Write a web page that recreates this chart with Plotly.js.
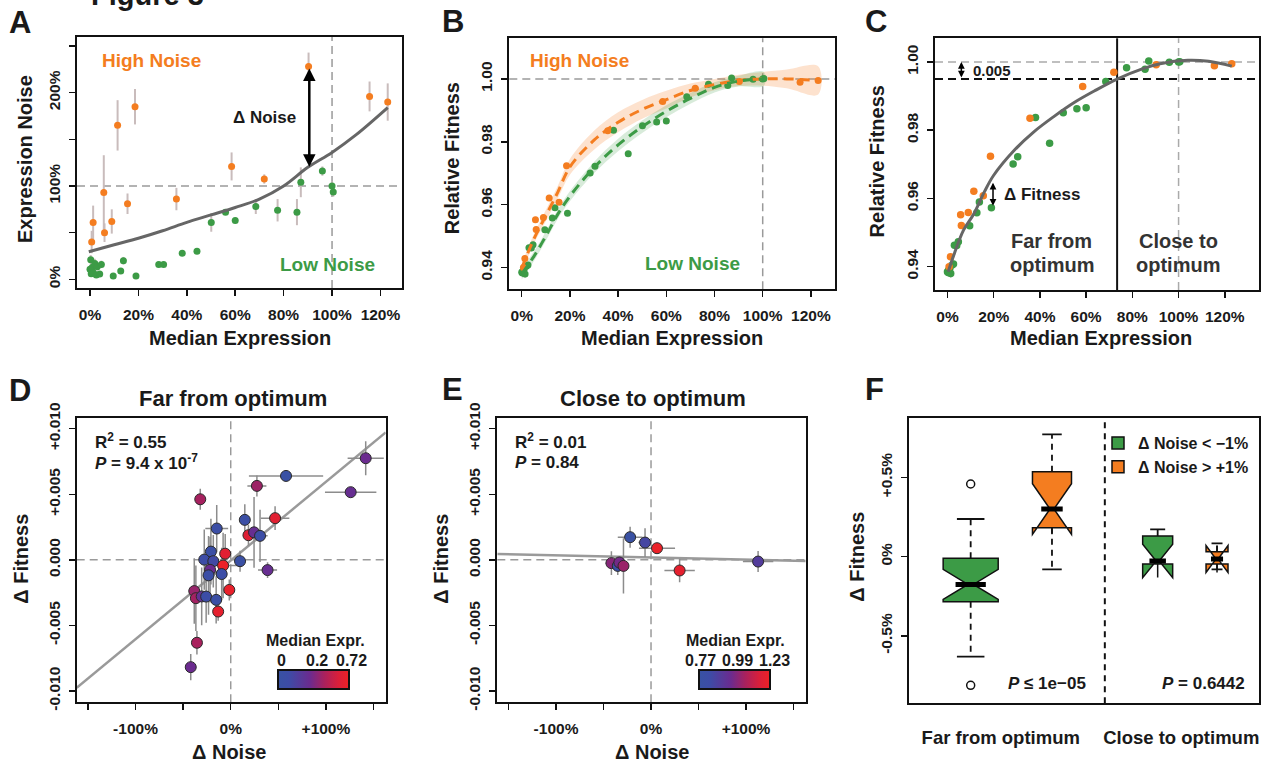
<!DOCTYPE html>
<html>
<head>
<meta charset="utf-8">
<script src="https://cdn.plot.ly/plotly-3.0.1.min.js"></script>
<style>
  html, body { margin: 0; padding: 0; background: #fff; }
  #fig { width: 1263px; height: 764px; }
</style>
</head>
<body>
<div id="fig"></div>
<script>
// ---------- Strain data (panels A, B, C) ----------
// High-noise strains (orange): median expression (%), expression noise (%), fitness
const hiExpr      = [0.7, 1.3, 5.7, 6.0, 9.0, 11.4, 15.5, 18.6, 35.7, 58.5, 72.0, 90.3, 115.5, 123.0];
const hiNoise     = [40, 61, 93, 50, 62, 165, 81, 185, 86, 121, 107.5, 228, 196, 190];
const hiNoiseErr  = [12, 18, 40, 10, 13, 27, 11, 19, 12, 15, 5, 15, 16, 20];
const hiFit       = [0.9400, 0.9429, 0.9552, 0.9521, 0.9559, 0.9621, 0.9608, 0.9724, 0.9835, 0.9928, 0.9970, 0.9992, 0.9989, 0.9995];
const hiFitErr    = [0.0012, 0.0010, 0.0009, 0.0008, 0.0008, 0.0008, 0.0008, 0.0008, 0.0006, 0.0006, 0.0005, 0.0005, 0.0005, 0.0005];

// Low-noise strains (green)
const loExpr      = [0.0, 0.3, 0.5, 1.0, 1.4, 2.0, 2.6, 3.0, 4.0, 4.7, 9.6, 12.7, 13.8, 19.0, 28.4, 30.4, 38.1, 44.2, 50.1, 56.0, 60.0, 68.5, 77.5, 85.5, 87.1, 96.0, 100.0, 100.5];
const loNoise     = [10.7, 21, 6, 13, 7, 17, 4.6, 13.5, 5.7, 16, 3.5, 9, 20, 3.5, 16, 16, 28, 30, 61, 72, 63, 78, 74, 72, 104, 116, 100, 93.5];
const loNoiseErr  = [4, 5, 3, 4, 3, 5, 3, 4, 3, 4, 2, 3, 4, 2, 2, 2, 3, 3, 10, 3, 3, 8, 12, 14, 16, 5, 5, 5];
const loFit       = [0.9385, 0.9383, 0.9390, 0.9395, 0.9380, 0.9405, 0.9408, 0.9463, 0.9462, 0.9473, 0.9520, 0.9558, 0.9590, 0.9573, 0.9701, 0.9722, 0.9837, 0.9762, 0.9851, 0.9863, 0.9866, 0.9943, 0.9983, 0.9979, 1.0003, 0.9999, 1.0000, 1.0001];
const loFitErr    = [0.0012, 0.0012, 0.0010, 0.0010, 0.0012, 0.0010, 0.0010, 0.0010, 0.0010, 0.0010, 0.0008, 0.0008, 0.0008, 0.0008, 0.0006, 0.0006, 0.0006, 0.0006, 0.0005, 0.0005, 0.0005, 0.0005, 0.0005, 0.0005, 0.0005, 0.0005, 0.0005, 0.0005];

// Loess trend of noise vs expression (A)
const noiseFitX = [-0.5, 10, 20, 30, 40, 50, 60, 70, 80, 90, 100, 110, 123];
const noiseFitY = [29.5, 37, 44, 52, 61, 69, 77, 86, 100, 120, 136, 155, 184];

// Loess fits with confidence bands (B)
const hiCurveX  = [0, 5, 10, 15, 20, 30, 40, 50, 60, 70, 80, 90, 100, 110, 123];
const hiCurveY  = [0.9398, 0.9490, 0.9565, 0.9640, 0.9720, 0.9805, 0.9862, 0.9903, 0.9934, 0.9963, 0.9982, 0.9995, 1.0000, 1.0000, 0.9995];
const hiCurveSE = [0.0015, 0.0015, 0.0018, 0.0020, 0.0025, 0.0030, 0.0032, 0.0030, 0.0028, 0.0022, 0.0018, 0.0018, 0.0022, 0.0030, 0.0045];
const loCurveX  = [0, 5, 10, 15, 20, 30, 40, 50, 60, 70, 80, 90, 100.5];
const loCurveY  = [0.9380, 0.9435, 0.9500, 0.9570, 0.9627, 0.9718, 0.9790, 0.9848, 0.9897, 0.9938, 0.9973, 0.9993, 1.0000];
const loCurveSE = [0.0018, 0.0015, 0.0015, 0.0015, 0.0016, 0.0018, 0.0020, 0.0020, 0.0019, 0.0017, 0.0016, 0.0017, 0.0022];

// Pooled loess fit (C)
const allCurveX = [0.3, 3, 7, 11.5, 16, 20, 29, 37.5, 46, 55, 63.5, 73.4, 84, 92, 104, 113, 123];
const allCurveY = [0.9385, 0.9439, 0.9508, 0.9556, 0.9620, 0.9668, 0.9742, 0.9796, 0.9840, 0.9882, 0.9915, 0.9950, 0.9979, 0.9995, 1.0005, 1.0002, 0.9988];
const optimumCut = 73.4;      // expression splitting far / close to optimum
const fitnessTol = 0.005;     // fitness tolerance below optimum

// ---------- Δ Noise vs Δ Fitness (panels D, E) ----------
const farDNoise   = [141.8, 126, 58.1, 27.5, -32, 46.6, 14.8, -14.7, 18.6, 24.5, 30.8, -20.8, -5.8, -27.8, -18.3, 9.8, -8, -21.7, -23.3, -9.5, 38.7, -1.5, -38.3, -36.6, -30.5, -25.8, -15.3, -13.2, -35.5, -42];
const farDFit     = [0.00775, 0.00516, 0.0064, 0.00564, 0.00462, 0.00318, 0.00305, 0.00239, 0.00188, 0.0021, 0.00183, 0.00063, 0.00047, 0.00002, -0.0001, -0.0001, -0.00043, -0.00076, -0.00118, -0.00108, -0.00078, -0.00229, -0.00238, -0.00292, -0.00279, -0.0028, -0.00305, -0.00394, -0.00632, -0.00818];
const farNoiseErr = [19, 27, 39, 10, 3, 15, 3, 12, 5, 4, 8, 5, 4, 5, 6, 6, 20, 4, 4, 3, 10, 3, 3, 3, 3, 3, 3, 3, 3, 3];
const farFitErr   = [0.0013, 0.0003, 0.0003, 0.0008, 0.0008, 0.0009, 0.0012, 0.0018, 0.0008, 0.0027, 0.0020, 0.0025, 0.0015, 0.0023, 0.0020, 0.0008, 0.0025, 0.0025, 0.0030, 0.0020, 0.0006, 0.0008, 0.0025, 0.0025, 0.0022, 0.0020, 0.0018, 0.0007, 0.0009, 0.0010];
const farMedExpr  = [0.18, 0.17, 0.01, 0.32, 0.35, 0.62, 0.03, 0.04, 0.60, 0.17, 0.05, 0.03, 0.62, 0.06, 0.07, 0.02, 0.70, 0.18, 0.04, 0.05, 0.17, 0.68, 0.30, 0.34, 0.16, 0.05, 0.03, 0.65, 0.36, 0.18];
const farFitLine  = { slope: 6.0e-5, intercept: -0.00005 };
const farExprTicks = [0, 0.2, 0.72];

const closeDNoise   = [-22, -6.3, 6.3, -41.7, -35, -33.3, -29, 30.1, 112.7];
const closeDFit     = [0.00173, 0.00132, 0.00089, -0.00025, -0.00046, -0.0002, -0.00046, -0.00081, -0.00013];
const closeNoiseErr = [13, 7, 19, 6, 3, 3, 4, 16, 16];
const closeFitErr   = [0.0008, 0.0011, 0.0003, 0.0009, 0.0007, 0.0005, 0.0021, 0.0009, 0.0008];
const closeMedExpr  = [0.78, 0.86, 1.22, 1.01, 0.80, 0.98, 1.04, 1.20, 0.90];
const closeFitLine  = { slope: -1.64e-6, intercept: 0.00019 };
const closeExprTicks = [0.77, 0.99, 1.23];

// ---------- Box summaries (panel F), Δ Fitness in % ----------
const boxPos      = [1, 2, 3.3, 4.03];
const boxGroup    = ['low', 'high', 'low', 'high'];
const boxQ1       = [-0.284, 0.183, -0.046, -0.046];
const boxMedian   = [-0.175, 0.301, -0.027, -0.015];
const boxQ3       = [-0.010, 0.537, 0.130, 0.032];
const boxLoWhisk  = [-0.631, -0.080, -0.046, -0.080];
const boxHiWhisk  = [0.238, 0.772, 0.173, 0.084];
const boxNotch    = [0.095, 0.160, 0.105, 0.085];
const boxWidth    = [0.677, 0.48, 0.369, 0.27];
const outlierPos  = [1, 1];
const outlierVal  = [0.459, -0.812];
const groupSplit  = 2.65;

// ---------- Page geometry ----------
const W = 1263, H = 764;
const px = v => v / W;
const py = v => 1 - v / H;
const ORANGE = '#f47d20', GREEN = '#3c9b46', INK = '#1a1a1a';
const FONT = 'Liberation Sans, Arial, Helvetica, sans-serif';

const FR = {
  A: { x0: 77,    x1: 402,    y0: 37,    y1: 288 },
  B: { x0: 509.3, x1: 835,    y0: 38.3,  y1: 289.3 },
  C: { x0: 935,   x1: 1259,   y0: 38.3,  y1: 290 },
  D: { x0: 76.7,  x1: 385.7,  y0: 417.7, y1: 702.3 },
  E: { x0: 497.3, x1: 805.7,  y0: 417.7, y1: 702.3 },
  F: { x0: 909.3, x1: 1259.3, y0: 417.7, y1: 703.3 }
};

function axis(f, isX, anchor, range, tickvals, ticktext, extra) {
  return Object.assign({
    domain: isX ? [px(f.x0), px(f.x1)] : [py(f.y1), py(f.y0)],
    anchor: anchor, range: range,
    tickmode: 'array', tickvals: tickvals, ticktext: ticktext,
    showgrid: false, zeroline: false,
    showline: true, mirror: true, linewidth: 2, linecolor: '#111',
    ticks: 'outside', ticklen: 6, tickwidth: 1.5, tickcolor: '#111',
    tickfont: { family: FONT, size: 15.5, color: INK, weight: 'bold' },
    tickangle: isX ? 0 : -90,
    ticklabelstandoff: isX ? 5 : 3,
    automargin: false, fixedrange: true
  }, extra || {});
}

const pctTicks = [0, 20, 40, 60, 80, 100, 120];
const pctText = pctTicks.map(v => v + '%');
const fitTicks = [0.94, 0.96, 0.98, 1.00];
const fitText = fitTicks.map(v => v.toFixed(2));
const dTicks = [-0.01, -0.005, 0, 0.005, 0.01];
const dText = ['-0.010', '-0.005', '0.000', '+0.005', '+0.010'];
const nTicks = [-150, -100, -50, 0, 50, 100, 150];
const nText = ['', '-100%', '', '0%', '', '+100%', ''];

// maps median expression onto the colour bar (0.5 at the middle label)
function exprToPos(v, t) {
  if (v <= t[1]) return 0.5 * (v - t[0]) / (t[1] - t[0]);
  return 0.5 + 0.5 * (v - t[1]) / (t[2] - t[1]);
}
const exprScale = [[0, '#3852a3'], [0.15, '#3d4ca6'], [0.45, '#6b2b8f'], [0.65, '#a8215e'], [0.85, '#d91f3a'], [1, '#ee2125']];

const traces = [];
const none = { hoverinfo: 'skip', showlegend: false };

// ----- Panel A -----
traces.push(Object.assign({
  type: 'scatter', mode: 'markers', xaxis: 'x', yaxis: 'y',
  x: loExpr, y: loNoise,
  error_y: { type: 'data', array: loNoiseErr, color: '#c9bcbc', thickness: 2, width: 0 },
  marker: { color: GREEN, size: 7 }
}, none));
traces.push(Object.assign({
  type: 'scatter', mode: 'markers', xaxis: 'x', yaxis: 'y',
  x: hiExpr, y: hiNoise,
  error_y: { type: 'data', array: hiNoiseErr, color: '#c9bcbc', thickness: 2, width: 0 },
  marker: { color: ORANGE, size: 7 }
}, none));
traces.push(Object.assign({
  type: 'scatter', mode: 'lines', xaxis: 'x', yaxis: 'y',
  x: noiseFitX, y: noiseFitY, line: { color: '#666', width: 3, shape: 'spline' }
}, none));

// ----- Panel B -----
function band(xs, ys, se, fill) {
  const up = ys.map((v, i) => v + se[i]);
  const dn = ys.map((v, i) => v - se[i]);
  return Object.assign({
    type: 'scatter', mode: 'lines', xaxis: 'x2', yaxis: 'y2',
    x: xs.concat(xs.slice().reverse()), y: up.concat(dn.reverse()),
    fill: 'toself', fillcolor: fill, line: { width: 0, shape: 'spline' }
  }, none);
}
traces.push(band(hiCurveX, hiCurveY, hiCurveSE, 'rgba(244,125,32,0.22)'));
traces.push(band(loCurveX, loCurveY, loCurveSE, 'rgba(60,155,70,0.2)'));
traces.push(Object.assign({
  type: 'scatter', mode: 'markers', xaxis: 'x2', yaxis: 'y2', x: loExpr, y: loFit,
  error_y: { type: 'data', array: loFitErr, color: '#bbb', thickness: 1.5, width: 0 },
  marker: { color: GREEN, size: 7 }
}, none));
traces.push(Object.assign({
  type: 'scatter', mode: 'markers', xaxis: 'x2', yaxis: 'y2', x: hiExpr, y: hiFit,
  error_y: { type: 'data', array: hiFitErr, color: '#bbb', thickness: 1.5, width: 0 },
  marker: { color: ORANGE, size: 7 }
}, none));
traces.push(Object.assign({
  type: 'scatter', mode: 'lines', xaxis: 'x2', yaxis: 'y2', x: hiCurveX, y: hiCurveY,
  line: { color: ORANGE, width: 3, dash: '10px,6px', shape: 'spline' }
}, none));
traces.push(Object.assign({
  type: 'scatter', mode: 'lines', xaxis: 'x2', yaxis: 'y2', x: loCurveX, y: loCurveY,
  line: { color: GREEN, width: 3, dash: '10px,6px', shape: 'spline' }
}, none));

// ----- Panel C -----
traces.push(Object.assign({
  type: 'scatter', mode: 'markers', xaxis: 'x3', yaxis: 'y3', x: loExpr, y: loFit,
  error_y: { type: 'data', array: loFitErr, color: '#bbb', thickness: 1.5, width: 0 },
  marker: { color: GREEN, size: 7.5 }
}, none));
traces.push(Object.assign({
  type: 'scatter', mode: 'markers', xaxis: 'x3', yaxis: 'y3', x: hiExpr, y: hiFit,
  error_y: { type: 'data', array: hiFitErr, color: '#bbb', thickness: 1.5, width: 0 },
  marker: { color: ORANGE, size: 7.5 }
}, none));
traces.push(Object.assign({
  type: 'scatter', mode: 'lines', xaxis: 'x3', yaxis: 'y3', x: allCurveX, y: allCurveY,
  line: { color: '#666', width: 3, shape: 'spline' }
}, none));

// ----- Panels D and E -----
function fitLine(ax, ay, fit, range) {
  return Object.assign({
    type: 'scatter', mode: 'lines', xaxis: ax, yaxis: ay,
    x: range, y: range.map(v => fit.intercept + fit.slope * v),
    line: { color: '#9a9a9a', width: 2.5 }
  }, none);
}
function deltaPoints(ax, ay, xs, ys, ex, ey, expr, ticks) {
  return Object.assign({
    type: 'scatter', mode: 'markers', xaxis: ax, yaxis: ay, x: xs, y: ys,
    error_x: { type: 'data', array: ex, color: '#8c8c8c', thickness: 1.5, width: 0 },
    error_y: { type: 'data', array: ey, color: '#8c8c8c', thickness: 1.5, width: 0 },
    marker: {
      size: 11, color: expr.map(v => exprToPos(v, ticks)), cmin: 0, cmax: 1,
      colorscale: exprScale, line: { color: '#2a2a2a', width: 1 }
    }
  }, none);
}
const nRange = [-161.8, 162.8];
traces.push(fitLine('x4', 'y4', farFitLine, nRange));
traces.push(deltaPoints('x4', 'y4', farDNoise, farDFit, farNoiseErr, farFitErr, farMedExpr, farExprTicks));
traces.push(fitLine('x5', 'y5', closeFitLine, nRange));
traces.push(deltaPoints('x5', 'y5', closeDNoise, closeDFit, closeNoiseErr, closeFitErr, closeMedExpr, closeExprTicks));

// colour bars (drawn from a hidden trace per panel)
function colorBarTrace(ax, ay, cx, y1) {
  return Object.assign({
    type: 'scatter', mode: 'markers', xaxis: ax, yaxis: ay, x: [null], y: [null],
    marker: {
      color: [0], cmin: 0, cmax: 1, colorscale: exprScale, showscale: true,
      colorbar: {
        orientation: 'h', x: px(cx), xanchor: 'center', y: py(y1), yanchor: 'bottom',
        len: 71, lenmode: 'pixels', thickness: 19, thicknessmode: 'pixels',
        outlinewidth: 2, outlinecolor: '#111', showticklabels: false, ticks: '',
        xpad: 0, ypad: 0, borderwidth: 0
      }
    }
  }, none);
}
traces.push(colorBarTrace('x4', 'y4', 313.8, 691));
traces.push(colorBarTrace('x5', 'y5', 734.2, 691));

// ----- Panel F -----
const capFrac = 0.5, notchFrac = 0.45;
const whiskX = [], whiskY = [], capX = [], capY = [], medX = [], medY = [];
boxPos.forEach((p, i) => {
  whiskX.push(p, p, null, p, p, null);
  whiskY.push(boxQ3[i], boxHiWhisk[i], null, boxQ1[i], boxLoWhisk[i], null);
  const c = boxWidth[i] * capFrac / 2;
  if (boxHiWhisk[i] > boxQ3[i]) { capX.push(p - c, p + c, null); capY.push(boxHiWhisk[i], boxHiWhisk[i], null); }
  if (boxLoWhisk[i] < boxQ1[i]) { capX.push(p - c, p + c, null); capY.push(boxLoWhisk[i], boxLoWhisk[i], null); }
  const m = boxWidth[i] * (1 - notchFrac) / 2;
  medX.push(p - m, p + m, null); medY.push(boxMedian[i], boxMedian[i], null);
});
traces.push(Object.assign({
  type: 'scatter', mode: 'lines', xaxis: 'x6', yaxis: 'y6', x: whiskX, y: whiskY,
  line: { color: '#111', width: 1.8, dash: '6px,5px' }
}, none));
traces.push(Object.assign({
  type: 'scatter', mode: 'lines', xaxis: 'x6', yaxis: 'y6', x: capX, y: capY,
  line: { color: '#111', width: 1.8 }
}, none));
const legendSeen = {};
boxPos.forEach((p, i) => {
  const g = boxGroup[i];
  traces.push({
    type: 'box', xaxis: 'x6', yaxis: 'y6', x: [p],
    q1: [boxQ1[i]], median: [boxMedian[i]], q3: [boxQ3[i]],
    lowerfence: [boxQ1[i]], upperfence: [boxQ3[i]],
    notched: true, notchspan: [boxNotch[i]], notchwidth: notchFrac,
    width: boxWidth[i], whiskerwidth: 0, boxpoints: false,
    fillcolor: g === 'low' ? GREEN : ORANGE,
    line: { color: '#111', width: 1.5 },
    name: g === 'low' ? 'Δ Noise &lt; −1%' : 'Δ Noise &gt; +1%',
    legendgroup: g, showlegend: !legendSeen[g], hoverinfo: 'skip'
  });
  legendSeen[g] = true;
});
traces.push(Object.assign({
  type: 'scatter', mode: 'lines', xaxis: 'x6', yaxis: 'y6', x: medX, y: medY,
  line: { color: '#000', width: 5 }
}, none));
traces.push(Object.assign({
  type: 'scatter', mode: 'markers', xaxis: 'x6', yaxis: 'y6', x: outlierPos, y: outlierVal,
  marker: { symbol: 'circle-open', color: '#111', size: 8, line: { width: 1.5 } }
}, none));

// ---------- Reference lines ----------
const grayDash = { color: '#9a9a9a', width: 1.5, dash: '8px,5px' };
function vline(ax, ay, x, line) { return { type: 'line', layer: 'below', xref: ax, yref: ay + ' domain', x0: x, x1: x, y0: 0, y1: 1, line: line }; }
function hline(ax, ay, y, line) { return { type: 'line', layer: 'below', xref: ax + ' domain', yref: ay, x0: 0, x1: 1, y0: y, y1: y, line: line }; }
const shapes = [
  hline('x', 'y', 100, grayDash), vline('x', 'y', 100, grayDash),
  hline('x2', 'y2', 1, grayDash), vline('x2', 'y2', 100, grayDash),
  hline('x3', 'y3', 1, { color: '#aaa', width: 1.5, dash: '8px,5px' }), vline('x3', 'y3', 100, { color: '#aaa', width: 1.5, dash: '8px,5px' }),
  hline('x3', 'y3', 1 - fitnessTol, { color: '#111', width: 2, dash: '8px,5px' }),
  vline('x3', 'y3', optimumCut, { color: '#111', width: 2 }),
  hline('x4', 'y4', 0, grayDash), vline('x4', 'y4', 0, grayDash),
  hline('x5', 'y5', 0, grayDash), vline('x5', 'y5', 0, grayDash),
  vline('x6', 'y6', groupSplit, { color: '#111', width: 2, dash: '6px,5px' })
];

// ---------- Text ----------
function txt(text, x, y, size, opts) {
  opts = opts || {};
  return {
    xref: 'paper', yref: 'paper', x: px(x), y: py(y), text: text, showarrow: false,
    xanchor: opts.xanchor || 'center', yanchor: opts.yanchor || 'middle',
    textangle: opts.angle || 0,
    font: { family: FONT, size: size, color: opts.color || INK, weight: 'bold' }
  };
}
function arrow(ax, ay, x, y0, y1, width, size) {
  return {
    xref: ax, yref: ay, axref: ax, ayref: ay, x: x, y: y1, ax: x, ay: y0, text: '',
    showarrow: true, arrowside: 'end+start', arrowhead: 2, startarrowhead: 2,
    arrowsize: size, startarrowsize: size, arrowwidth: width, arrowcolor: '#000',
    standoff: 0, startstandoff: 0
  };
}
const annotations = [
  txt('Figure 3', 89, 13, 29, { xanchor: 'left', yanchor: 'bottom' }),
  txt('A', 7, 23, 31, { xanchor: 'left' }), txt('B', 440, 22, 31, { xanchor: 'left' }), txt('C', 863, 22, 31, { xanchor: 'left' }),
  txt('D', 7, 390, 31, { xanchor: 'left' }), txt('E', 440, 389, 31, { xanchor: 'left' }), txt('F', 863, 389, 31, { xanchor: 'left' }),
  // A
  txt('High Noise', 100, 61, 19, { xanchor: 'left', color: ORANGE }),
  txt('Low Noise', 377, 264, 19, { xanchor: 'right', color: GREEN }),
  txt('Δ Noise', 298, 117, 17, { xanchor: 'right' }),
  arrow('x', 'y', 90.6, 119, 226, 2.5, 1),
  txt('Median Expression', 239.5, 337.7, 20), txt('Expression Noise', 25, 159, 20, { angle: -90 }),
  // B
  txt('High Noise', 528, 60, 19, { xanchor: 'left', color: ORANGE }),
  txt('Low Noise', 742, 263, 19, { xanchor: 'right', color: GREEN }),
  txt('Median Expression', 672.2, 338.3, 20), txt('Relative Fitness', 452.3, 158, 20, { angle: -90 }),
  // C
  arrow('x3', 'y3', 6, 1 - fitnessTol, 1, 1.5, 0.9),
  txt('0.005', 970.5, 70.5, 15, { xanchor: 'left' }),
  arrow('x3', 'y3', 19.7, 0.9574, 0.9646, 1.5, 0.9),
  txt('Δ Fitness', 1002, 195, 17, { xanchor: 'left' }),
  txt('Far from', 1051.7, 240.7, 20, { color: '#333' }), txt('optimum', 1051.7, 265, 20, { color: '#333' }),
  txt('Close to', 1178, 240.7, 20, { color: '#333' }), txt('optimum', 1178, 265, 20, { color: '#333' }),
  txt('Median Expression', 1100.8, 338.3, 20), txt('Relative Fitness', 876.7, 161.7, 20, { angle: -90 }),
  // D
  txt('Far from optimum', 233, 398.3, 22),
  txt('R<sup>2</sup> = 0.55', 93.3, 440.7, 17, { xanchor: 'left' }),
  txt('<i>P</i> = 9.4 x 10<sup>-7</sup>', 93.3, 462.3, 17, { xanchor: 'left' }),
  txt('Median Expr.', 315, 640.7, 16),
  txt(String(farExprTicks[0]), 281, 660, 16), txt(String(farExprTicks[1]), 316.7, 660, 16), txt(String(farExprTicks[2]), 351.7, 660, 16),
  txt('Δ Noise', 228.8, 751.7, 20), txt('Δ Fitness', 20.7, 559, 20, { angle: -90 }),
  // E
  txt('Close to optimum', 653.3, 398.3, 22),
  txt('R<sup>2</sup> = 0.01', 513.3, 440.7, 17, { xanchor: 'left' }),
  txt('<i>P</i> = 0.84', 513.3, 462.3, 17, { xanchor: 'left' }),
  txt('Median Expr.', 735, 640.7, 16),
  txt(closeExprTicks[0].toFixed(2), 700.7, 660, 16), txt(closeExprTicks[1].toFixed(2), 737.3, 660, 16), txt(closeExprTicks[2].toFixed(2), 774.3, 660, 16),
  txt('Δ Noise', 651.7, 751.7, 20), txt('Δ Fitness', 440.7, 559, 20, { angle: -90 }),
  // F
  txt('<i>P</i> ≤ 1e−05', 1088.3, 683.3, 17, { xanchor: 'right' }),
  txt('<i>P</i> = 0.6442', 1246.7, 683.3, 17, { xanchor: 'right' }),
  txt('Δ Fitness', 856.7, 557, 20, { angle: -90 })
];

const layout = {
  width: W, height: H, autosize: false,
  margin: { l: 0, r: 0, t: 0, b: 0 },
  paper_bgcolor: '#fff', plot_bgcolor: '#fff',
  font: { family: FONT, color: INK },
  boxmode: 'overlay',
  showlegend: true,
  legend: {
    x: px(1098), y: py(426), xanchor: 'left', yanchor: 'top',
    bgcolor: 'rgba(0,0,0,0)', borderwidth: 0, itemclick: false, itemdoubleclick: false,
    font: { family: FONT, size: 16, color: INK, weight: 'bold' }, tracegroupgap: 0
  },
  xaxis:  axis(FR.A, true,  'y',  [-5.37, 128.9], pctTicks, pctText),
  yaxis:  axis(FR.A, false, 'x',  [-9.3, 259.7], [0, 50, 100, 150, 200, 250], ['0%', '', '100%', '', '200%', '']),
  xaxis2: axis(FR.B, true,  'y2', [-5.15, 130.0], pctTicks, pctText),
  yaxis2: axis(FR.B, false, 'x2', [0.9331, 1.0129], fitTicks, fitText),
  xaxis3: axis(FR.C, true,  'y3', [-5.4, 134.8], pctTicks, pctText),
  yaxis3: axis(FR.C, false, 'x3', [0.93317, 1.00695], fitTicks, fitText),
  xaxis4: axis(FR.D, true,  'y4', nRange, nTicks, nText),
  yaxis4: axis(FR.D, false, 'x4', [-0.01086, 0.01084], dTicks, dText),
  xaxis5: axis(FR.E, true,  'y5', nRange, nTicks, nText),
  yaxis5: axis(FR.E, false, 'x5', [-0.01086, 0.01084], dTicks, dText),
  xaxis6: axis(FR.F, true,  'y6', [0.245, 4.55], [1.37, 3.59], ['Far from optimum', 'Close to optimum'],
               { ticks: '', ticklabelstandoff: 16, tickfont: { family: FONT, size: 18.5, color: INK, weight: 'bold' } }),
  yaxis6: axis(FR.F, false, 'x6', [-0.9255, 0.8775], [-0.5, 0, 0.5], ['-0.5%', '0%', '+0.5%']),
  shapes: shapes,
  annotations: annotations
};

Plotly.newPlot('fig', traces, layout, { displayModeBar: false, staticPlot: true });
</script>
</body>
</html>
